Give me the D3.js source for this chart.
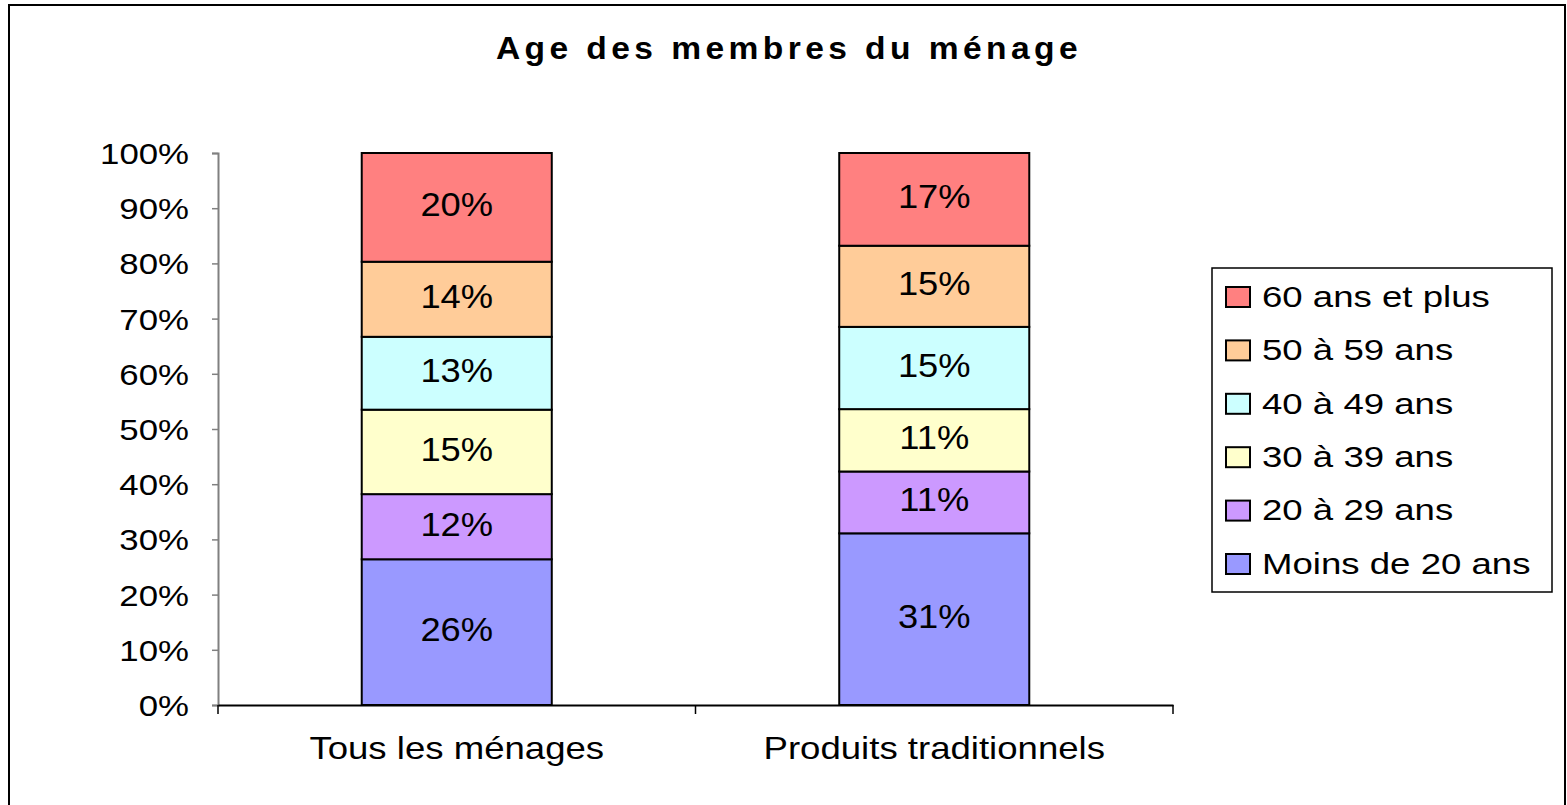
<!DOCTYPE html>
<html>
<head>
<meta charset="utf-8">
<script src="https://cdnjs.cloudflare.com/ajax/libs/d3/7.8.5/d3.min.js"></script>
<style>
body { margin: 0; background: #fff; }
svg { display: block; }
text { font-family: "Liberation Sans", Arial, sans-serif; fill: #000; }
</style>
</head>
<body>
<svg id="chart"></svg>
<script>
// data
var categories = ["Tous les ménages", "Produits traditionnels"];
var groups = ["Moins de 20 ans", "20 à 29 ans", "30 à 39 ans", "40 à 49 ans", "50 à 59 ans", "60 ans et plus"];
var tousLesMenages = [0.264, 0.118, 0.153, 0.132, 0.136, 0.197];
var produitsTraditionnels = [0.311, 0.112, 0.113, 0.149, 0.147, 0.168];
var yTicks = [0, 0.1, 0.2, 0.3, 0.4, 0.5, 0.6, 0.7, 0.8, 0.9, 1];
var colors = ["#9999FF", "#CC99FF", "#FFFFCC", "#CCFFFF", "#FFCC99", "#FF8080"];

var screen = {width: 1567, height: 805};
var plot = {left: 218, right: 1173, top: 153, bottom: 705};

var svg = d3.select("#chart")
    .attr("width", screen.width)
    .attr("height", screen.height);

// outer frame
svg.append("rect")
    .attr("x", 9).attr("y", 5)
    .attr("width", 1556).attr("height", 820)
    .attr("fill", "#fff")
    .attr("stroke", "#000")
    .attr("stroke-width", 2);

// table for the stack
var table = categories.map(function(c, i) {
    var row = {category: c};
    var vals = i == 0 ? tousLesMenages : produitsTraditionnels;
    groups.forEach(function(g, j) { row[g] = vals[j]; });
    return row;
});
var series = d3.stack().keys(groups)(table);

var xScale = d3.scaleBand().domain(categories).range([plot.left, plot.right]).padding(0);
var yScale = d3.scaleLinear().domain([0, 1]).range([plot.bottom, plot.top]);
var cScale = d3.scaleOrdinal().domain(groups).range(colors);
var barWidth = xScale.bandwidth() * 0.398;

// title
svg.append("text")
    .attr("transform", "translate(789,59) scale(1.05,1)")
    .attr("text-anchor", "middle")
    .style("font-size", "32px")
    .style("font-weight", "bold")
    .style("letter-spacing", "4.2px")
    .text("Age des membres du ménage");

// y axis
var yAxis = d3.axisLeft(yScale)
    .tickValues(yTicks)
    .tickFormat(d3.format(".0%"))
    .tickSize(6)
    .tickPadding(0);

var yg = svg.append("g")
    .attr("transform", "translate(" + plot.left + ",0)")
    .call(yAxis);
yg.select(".domain").attr("stroke", "#808080").attr("stroke-width", 2);
yg.selectAll(".tick line").attr("stroke", "#808080").attr("stroke-width", 1.5);
yg.selectAll(".tick text")
    .attr("x", null)
    .attr("transform", "translate(-29,0) scale(1.2,1)")
    .attr("dy", "0.36em")
    .style("font-size", "29px")
    .style("font-family", "'Liberation Sans', Arial, sans-serif")
    .attr("fill", "#000");

// x axis
var xAxis = d3.axisBottom(xScale).tickSize(0).tickFormat("");
var xg = svg.append("g")
    .attr("transform", "translate(0," + plot.bottom + ")")
    .call(xAxis);
xg.select(".domain").attr("stroke", "#000").attr("stroke-width", 2);
xg.selectAll(".tick").remove();

// ticks between categories
xg.selectAll("line.sep")
    .data([plot.left].concat(categories.map(function(c) { return xScale(c) + xScale.bandwidth(); })))
    .enter().append("line")
    .attr("class", "sep")
    .attr("x1", function(d) { return d; })
    .attr("x2", function(d) { return d; })
    .attr("y1", 0).attr("y2", 9)
    .attr("stroke", "#000")
    .attr("stroke-width", 1.5);

// category labels
svg.selectAll("text.cat")
    .data(categories)
    .enter().append("text")
    .attr("class", "cat")
    .attr("transform", function(d) {
        return "translate(" + (xScale(d) + xScale.bandwidth() / 2) + ",759) scale(1.18,1)";
    })
    .attr("text-anchor", "middle")
    .style("font-size", "31px")
    .text(function(d) { return d; });

// bars
var layers = svg.append("g").attr("id", "bars")
    .selectAll("g")
    .data(series)
    .enter().append("g")
    .attr("fill", function(d) { return cScale(d.key); });

layers.selectAll("rect")
    .data(function(d) { return d; })
    .enter().append("rect")
    .attr("x", function(d) { return xScale(d.data.category) + (xScale.bandwidth() - barWidth) / 2; })
    .attr("y", function(d) { return yScale(d[1]); })
    .attr("width", barWidth)
    .attr("height", function(d) { return yScale(d[0]) - yScale(d[1]); })
    .attr("stroke", "#000")
    .attr("stroke-width", 2);

layers.selectAll("text")
    .data(function(d) { return d; })
    .enter().append("text")
    .attr("transform", function(d) {
        var cx = xScale(d.data.category) + xScale.bandwidth() / 2;
        var cy = (yScale(d[0]) + yScale(d[1])) / 2;
        return "translate(" + cx + "," + (cy - 3) + ") scale(1.1,1)";
    })
    .attr("text-anchor", "middle")
    .attr("dy", "0.36em")
    .attr("fill", "#000")
    .style("font-size", "33px")
    .text(function(d) { return d3.format(".0%")(d[1] - d[0]); });

// legend
var legend = svg.append("g").attr("id", "legend");
legend.append("rect")
    .attr("x", 1212).attr("y", 268)
    .attr("width", 340).attr("height", 324)
    .attr("fill", "#fff")
    .attr("stroke", "#000")
    .attr("stroke-width", 1.5);

var legendKeys = groups.slice().reverse();
var items = legend.selectAll("g")
    .data(legendKeys)
    .enter().append("g")
    .attr("transform", function(d, i) { return "translate(1226," + (296 + i * 53.4) + ")"; });

items.append("rect")
    .attr("x", 0).attr("y", -9)
    .attr("width", 24).attr("height", 20)
    .attr("fill", function(d) { return cScale(d); })
    .attr("stroke", "#000")
    .attr("stroke-width", 2);

items.append("text")
    .attr("transform", "translate(36,0) scale(1.22,1)")
    .attr("dy", "0.36em")
    .style("font-size", "30px")
    .text(function(d) { return d; });
</script>
</body>
</html>
